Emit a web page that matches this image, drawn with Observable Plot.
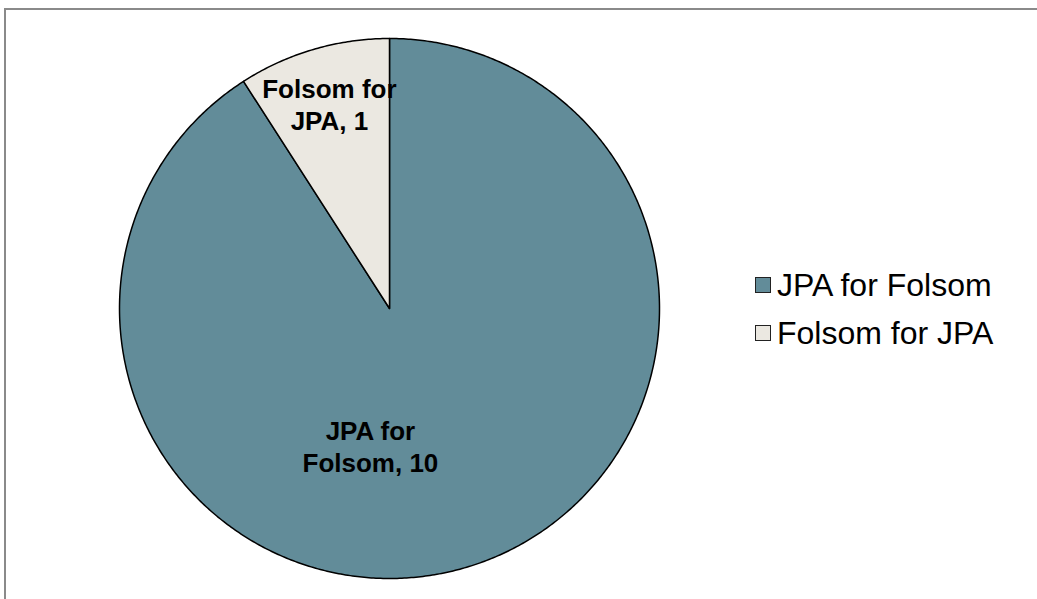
<!DOCTYPE html>
<html>
<head>
<meta charset="utf-8">
<script src="https://cdn.jsdelivr.net/npm/d3@7"></script>
<script src="https://cdn.jsdelivr.net/npm/@observablehq/plot@0.6"></script>
<style>
  html, body { margin: 0; padding: 0; background: #fff; }
  #wrap { position: relative; width: 1037px; height: 599px; overflow: hidden; font-family: "Liberation Sans", Arial, sans-serif; }
  #frame { position: absolute; left: 4px; top: 8px; width: 1100px; height: 700px; border: 2px solid #8a8a8a; box-sizing: border-box; }
  #legend { position: absolute; left: 755px; top: 261px; }
  .item { display: flex; align-items: center; height: 48px; font-size: 32px; color: #000; }
  .sw { width: 14px; height: 14px; border: 1.5px solid #222; margin-right: 6px; box-sizing: content-box; }
  #chart { position: absolute; left: 0; top: 0; }
</style>
</head>
<body>
<div id="wrap">
  <div id="frame"></div>
  <div id="chart"></div>
  <div id="legend"></div>
</div>
<script>
const categories = ["JPA for Folsom", "Folsom for JPA"];
const values = [10, 1];
const sliceLabels = ["JPA for\nFolsom, 10", "Folsom for\nJPA, 1"];
const colors = ["#628C99", "#EBE8E1"];

const data = categories.map((c, i) => ({name: c, value: values[i], label: sliceLabels[i]}));
const arcs = d3.pie().sort(null).value(d => d.value)(data);

// polygon outline of each slice (center + arc), in unit-circle coordinates
const pts = [];
arcs.forEach(a => {
  const n = Math.max(2, Math.ceil((a.endAngle - a.startAngle) / (Math.PI / 360)));
  pts.push({name: a.data.name, x: 0, y: 0});
  for (let k = 0; k <= n; k++) {
    const t = a.startAngle + (a.endAngle - a.startAngle) * k / n;
    pts.push({name: a.data.name, x: Math.sin(t), y: Math.cos(t)});
  }
  pts.push({name: a.data.name, x: 0, y: 0});
});

// label anchors: mid-angle at a fraction of the radius, with Excel-like best-fit nudge
const labelFrac = {"JPA for Folsom": 0.53, "Folsom for JPA": 0.79};
const labelNudge = {"JPA for Folsom": -0.22, "Folsom for JPA": 0};
const labs = arcs.map(a => {
  const m = (a.startAngle + a.endAngle) / 2;
  const f = labelFrac[a.data.name];
  return {name: a.data.name, label: a.data.label, x: Math.sin(m) * f + labelNudge[a.data.name], y: Math.cos(m) * f};
});

const chart = Plot.plot({
  width: 1037,
  height: 599,
  margin: 0,
  x: {domain: [-1, 1], range: [119, 659], axis: null},
  y: {domain: [-1, 1], range: [578, 38], axis: null},
  color: {domain: categories, range: colors},
  marks: [
    Plot.line(pts, {x: "x", y: "y", z: "name", fill: "name", stroke: "#000", strokeWidth: 1.5, strokeLinejoin: "round"}),
    Plot.text(labs, {x: "x", y: "y", text: "label", fontSize: 26, fontWeight: "bold", fill: "#000", lineHeight: 1.24, fontFamily: "Liberation Sans, Arial, sans-serif"})
  ]
});
chart.style.background = "transparent";
document.getElementById("chart").appendChild(chart);

const legend = document.getElementById("legend");
categories.forEach((c, i) => {
  const row = document.createElement("div");
  row.className = "item";
  const sw = document.createElement("span");
  sw.className = "sw";
  sw.style.background = colors[i];
  const tx = document.createElement("span");
  tx.textContent = c;
  row.appendChild(sw);
  row.appendChild(tx);
  legend.appendChild(row);
});
</script>
</body>
</html>
